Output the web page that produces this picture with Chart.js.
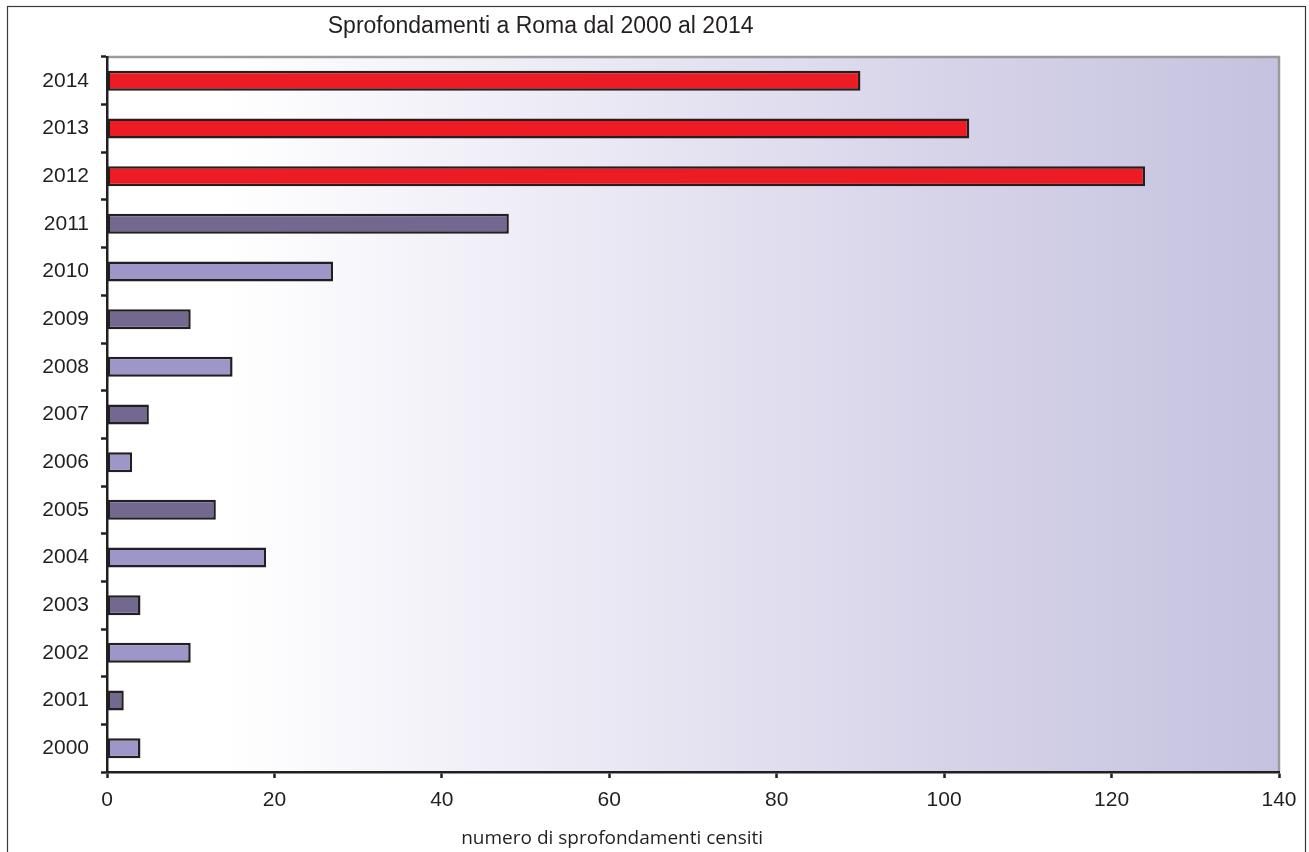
<!DOCTYPE html>
<html>
<head>
<meta charset="utf-8">
<script src="https://cdn.jsdelivr.net/npm/chart.js@4/dist/chart.umd.min.js"></script>
<style>
  html, body { margin: 0; padding: 0; background: #fff; }
  #wrap { width: 1309px; height: 852px; position: relative; }
</style>
</head>
<body>
<div id="wrap"><canvas id="chart"></canvas></div>
<script>
  const years = ["2000", "2001", "2002", "2003", "2004", "2005", "2006", "2007", "2008", "2009", "2010", "2011", "2012", "2013", "2014"];
  const sinkholes = [4, 2, 10, 4, 19, 13, 3, 5, 15, 10, 27, 48, 124, 103, 90];
  const xTicks = [0, 20, 40, 60, 80, 100, 120, 140];
  const chartTitle = "Sprofondamenti a Roma dal 2000 al 2014";
  const xTitle = "numero di sprofondamenti censiti";

  const ink = "#231f20";

  // red for the last three years, otherwise alternating purples
  function barColor(i) {
    if (Number(years[i]) >= 2012) return "#ed1c24";
    return i % 2 === 0 ? "#9d96c9" : "#736890";
  }

  /* ---------- frame, background, titles ---------- */
  const decor = {
    id: "decor",
    beforeDraw(chart) {
      const { ctx, chartArea: a } = chart;
      ctx.save();
      // outer frame
      ctx.strokeStyle = "#3a3a3a";
      ctx.lineWidth = 1.2;
      ctx.strokeRect(7.5, 6.5, 1298, 860);
      // plot background gradient
      const g = ctx.createLinearGradient(a.left, 0, a.right, 0);
      g.addColorStop(0, "#ffffff");
      g.addColorStop(0.1, "#ffffff");
      g.addColorStop(0.25, "#f5f4fa");
      g.addColorStop(0.5, "#e5e3f1");
      g.addColorStop(0.75, "#d4d1e8");
      g.addColorStop(1, "#c5c2df");
      ctx.fillStyle = g;
      ctx.fillRect(a.left, a.top, a.right - a.left, a.bottom - a.top);
      // gray top/right edges of plot
      ctx.strokeStyle = "#9a9a9c";
      ctx.lineWidth = 2.5;
      ctx.beginPath();
      ctx.moveTo(a.left, a.top);
      ctx.lineTo(a.right, a.top);
      ctx.lineTo(a.right, a.bottom);
      ctx.stroke();
      ctx.restore();
    },
    afterDraw(chart) {
      const { ctx, chartArea: a } = chart;
      ctx.save();
      ctx.fillStyle = ink;
      ctx.textAlign = "center";
      ctx.textBaseline = "middle";
      ctx.font = "23px Arial, 'Liberation Sans'";
      ctx.fillText(chartTitle, a.left + (a.right - a.left) * 0.370, 27);
      ctx.font = "19px 'Open Sans', 'Noto Sans'";
      ctx.fillText(xTitle, a.left + (a.right - a.left) * 0.431, 839);
      ctx.restore();
    },
  };

  new Chart(document.getElementById("chart"), {
    type: "bar",
    data: {
      labels: years,
      datasets: [{
        data: sinkholes,
        backgroundColor: years.map((y, i) => barColor(i)),
        borderColor: ink,
        borderWidth: 2.5,
        borderSkipped: false,
        barPercentage: 0.42,
        categoryPercentage: 1,
      }],
    },
    options: {
      indexAxis: "y",
      responsive: true,
      maintainAspectRatio: false,
      animation: false,
      layout: { padding: { left: 0, right: 30, top: 57, bottom: 0 } },
      plugins: { legend: { display: false }, tooltip: { enabled: false } },
      scales: {
        x: {
          min: 0,
          max: 140,
          afterBuildTicks: (s) => { s.ticks = xTicks.map((v) => ({ value: v })); },
          afterFit: (s) => { s.height = 80; },
          grid: { drawOnChartArea: false, tickLength: 6, tickWidth: 2.5, color: ink },
          border: { display: true, color: ink, width: 2.5 },
          ticks: { color: ink, padding: 10, font: { family: "Arial", size: 21 }, maxRotation: 0 },
        },
        y: {
          reverse: true,
          afterFit: (s) => { s.width = 107; },
          grid: { drawOnChartArea: false, offset: true, tickLength: 6, tickWidth: 2.5, color: ink },
          border: { display: true, color: ink, width: 2.5 },
          ticks: { color: ink, padding: 12, font: { family: "Arial", size: 21 } },
        },
      },
    },
    plugins: [decor],
  });
</script>
</body>
</html>
